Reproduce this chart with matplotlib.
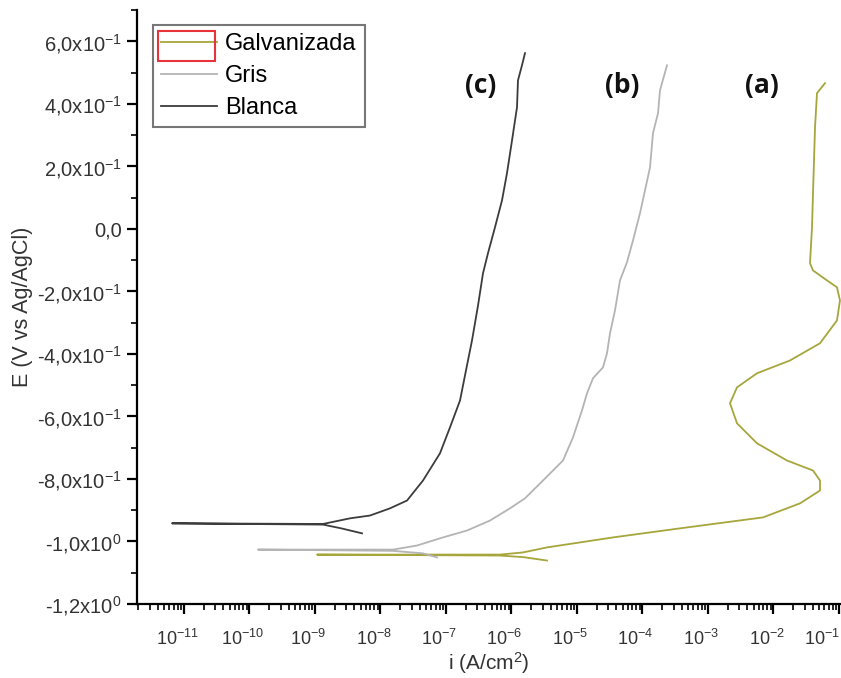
import numpy as np
import matplotlib
matplotlib.use("Agg")
import matplotlib.pyplot as plt
import matplotlib.transforms as mtransforms
from matplotlib.ticker import FixedLocator, LogLocator, NullFormatter, FuncFormatter
from matplotlib.patches import Rectangle

# ---------------- data (log10 of i in A/cm2, E in V vs Ag/AgCl) ----------------
series_names = ["Galvanizada", "Gris", "Blanca"]

galv_logi = [-5.458, -5.82, -6.18, -8.969, -6.176, -5.824, -5.458, -4.450, -3.427,
             -2.160, -1.595, -1.290, -1.290, -1.397, -1.794, -2.252, -2.557, -2.664,
             -2.557, -2.252, -1.748, -1.290, -1.031, -0.985, -1.031, -1.183, -1.397,
             -1.443, -1.412, -1.397, -1.366, -1.336, -1.214]
galv_E = [-1.061, -1.050, -1.045, -1.042, -1.042, -1.035, -1.019, -0.987, -0.958,
          -0.923, -0.878, -0.837, -0.805, -0.773, -0.741, -0.686, -0.622, -0.558,
          -0.507, -0.462, -0.421, -0.366, -0.293, -0.229, -0.187, -0.165, -0.133,
          -0.110, 0.005, 0.114, 0.325, 0.434, 0.466]

gris_logi = [-7.137, -7.351, -7.81, -9.870, -7.809, -7.443, -7.046, -6.679, -6.328,
             -6.023, -5.794, -5.519, -5.214, -5.061, -4.924, -4.847, -4.756, -4.603,
             -4.542, -4.496, -4.420, -4.344, -4.237, -4.145, -4.038, -3.962, -3.885,
             -3.840, -3.763, -3.733, -3.626]
gris_E = [-1.051, -1.038, -1.030, -1.026, -1.026, -1.013, -0.987, -0.965, -0.933,
          -0.894, -0.862, -0.805, -0.741, -0.667, -0.581, -0.526, -0.478, -0.443,
          -0.398, -0.334, -0.261, -0.165, -0.107, -0.037, 0.050, 0.123, 0.197,
          0.306, 0.370, 0.443, 0.523]

blanca_logi = [-8.282, -8.60, -8.878, -11.183, -8.878, -8.466, -8.160, -7.855, -7.595,
               -7.351, -7.092, -6.939, -6.786, -6.695, -6.603, -6.511, -6.435, -6.359,
               -6.252, -6.145, -6.069, -5.992, -5.916, -5.901, -5.840, -5.794]
blanca_E = [-0.974, -0.958, -0.946, -0.942, -0.944, -0.926, -0.917, -0.894, -0.869,
            -0.805, -0.718, -0.635, -0.549, -0.453, -0.357, -0.245, -0.142, -0.078,
            0.005, 0.091, 0.178, 0.283, 0.389, 0.475, 0.523, 0.562]

curve_labels = ["(c)", "(b)", "(a)"]

y_ticks = [0.6, 0.4, 0.2, 0.0, -0.2, -0.4, -0.6, -0.8, -1.0, -1.2]
y_tick_labels = ["6,0x10$^{-1}$", "4,0x10$^{-1}$", "2,0x10$^{-1}$", "0,0",
                 "-2,0x10$^{-1}$", "-4,0x10$^{-1}$", "-6,0x10$^{-1}$", "-8,0x10$^{-1}$",
                 "-1,0x10$^{0}$", "-1,2x10$^{0}$"]
x_decades = list(range(-11, 0))

# ---------------- figure ----------------
plt.rcParams['font.family'] = ['Liberation Sans', 'DejaVu Sans']
plt.rcParams['mathtext.fontset'] = 'custom'
plt.rcParams['mathtext.rm'] = 'Liberation Sans'
plt.rcParams['mathtext.it'] = 'Liberation Sans'

fig = plt.figure(figsize=(8.41, 6.78), dpi=100)
ax = fig.add_axes([137/841, 1 - 604/678, 1 - 137/841, (604 - 10)/678])

colors = {"Galvanizada": "#a6a63c", "Gris": "#b4b4b4", "Blanca": "#3c3c3c"}

ax.plot(10 ** np.array(galv_logi), galv_E, color=colors["Galvanizada"], lw=1.3, label="Galvanizada")
ax.plot(10 ** np.array(gris_logi), gris_E, color=colors["Gris"], lw=1.3, label="Gris")
ax.plot(10 ** np.array(blanca_logi), blanca_E, color=colors["Blanca"], lw=1.3, label="Blanca")

ax.set_xscale("log")
ax.set_xlim(10 ** (-11 + (137 - 184) / 65.5), 10 ** (-11 + (841 - 184) / 65.5))
ax.set_ylim(-1.2, 0.7)

for s in ["top", "right"]:
    ax.spines[s].set_visible(False)
for s in ["left", "bottom"]:
    ax.spines[s].set_linewidth(1.6)
    ax.spines[s].set_color("black")

ax.yaxis.set_major_locator(FixedLocator(y_ticks))
ax.set_yticklabels(y_tick_labels)
ax.yaxis.set_minor_locator(FixedLocator([0.7, 0.5, 0.3, 0.1, -0.1, -0.3, -0.5, -0.7, -0.9, -1.1]))

ax.xaxis.set_major_locator(FixedLocator([10.0 ** d for d in x_decades]))
ax.xaxis.set_major_formatter(FuncFormatter(lambda v, p: "10$^{%d}$" % round(np.log10(v))))
ax.xaxis.set_minor_locator(LogLocator(base=10, subs=np.arange(2, 10), numticks=100))
ax.xaxis.set_minor_formatter(NullFormatter())

ax.tick_params(which="major", direction="out", length=7, width=1.6,
               labelcolor="#333333", pad=4)
ax.tick_params(axis="y", which="major", labelsize=14.5)
ax.tick_params(axis="x", which="major", labelsize=13, pad=11)
ax.tick_params(which="minor", direction="out", length=4, width=1.2)

# Origin-style: x tick labels sit slightly left of their ticks
xlabels = ax.get_xticklabels()
for k, lbl in enumerate(xlabels):
    dx = -17 if k == len(xlabels) - 1 else -7
    shift = mtransforms.ScaledTranslation(dx / 100, 0, fig.dpi_scale_trans)
    lbl.set_transform(lbl.get_transform() + shift)

ax.set_xlabel("i (A/cm$^{2}$)", fontsize=15, color="#333333", labelpad=1)
ax.set_ylabel("E (V vs Ag/AgCl)", fontsize=15.5, color="#333333", labelpad=3)

leg = ax.legend(loc="upper left", bbox_to_anchor=((153 - 137) / 704, (604 - 25) / 594),
                frameon=True, fancybox=False, fontsize=17, handlelength=2.35,
                handletextpad=0.35, borderpad=0.35, labelspacing=0.42,
                borderaxespad=0)
leg.get_frame().set_edgecolor("#555555")
leg.get_frame().set_linewidth(1.5)

fig.patches.append(Rectangle((158 / 841, 1 - 61 / 678), 57 / 841, 30 / 678,
                             transform=fig.transFigure, fill=False,
                             edgecolor="#e8333a", lw=1.5))

label_x = [-6.466, -4.313, -2.176]
for lab, lx in zip(curve_labels, label_x):
    ax.text(10 ** lx, 0.459, lab, ha="center", va="center", fontsize=19,
            fontweight="bold", family=["Open Sans", "DejaVu Sans"], color="#111111")

fig.savefig("out.png", dpi=100)
